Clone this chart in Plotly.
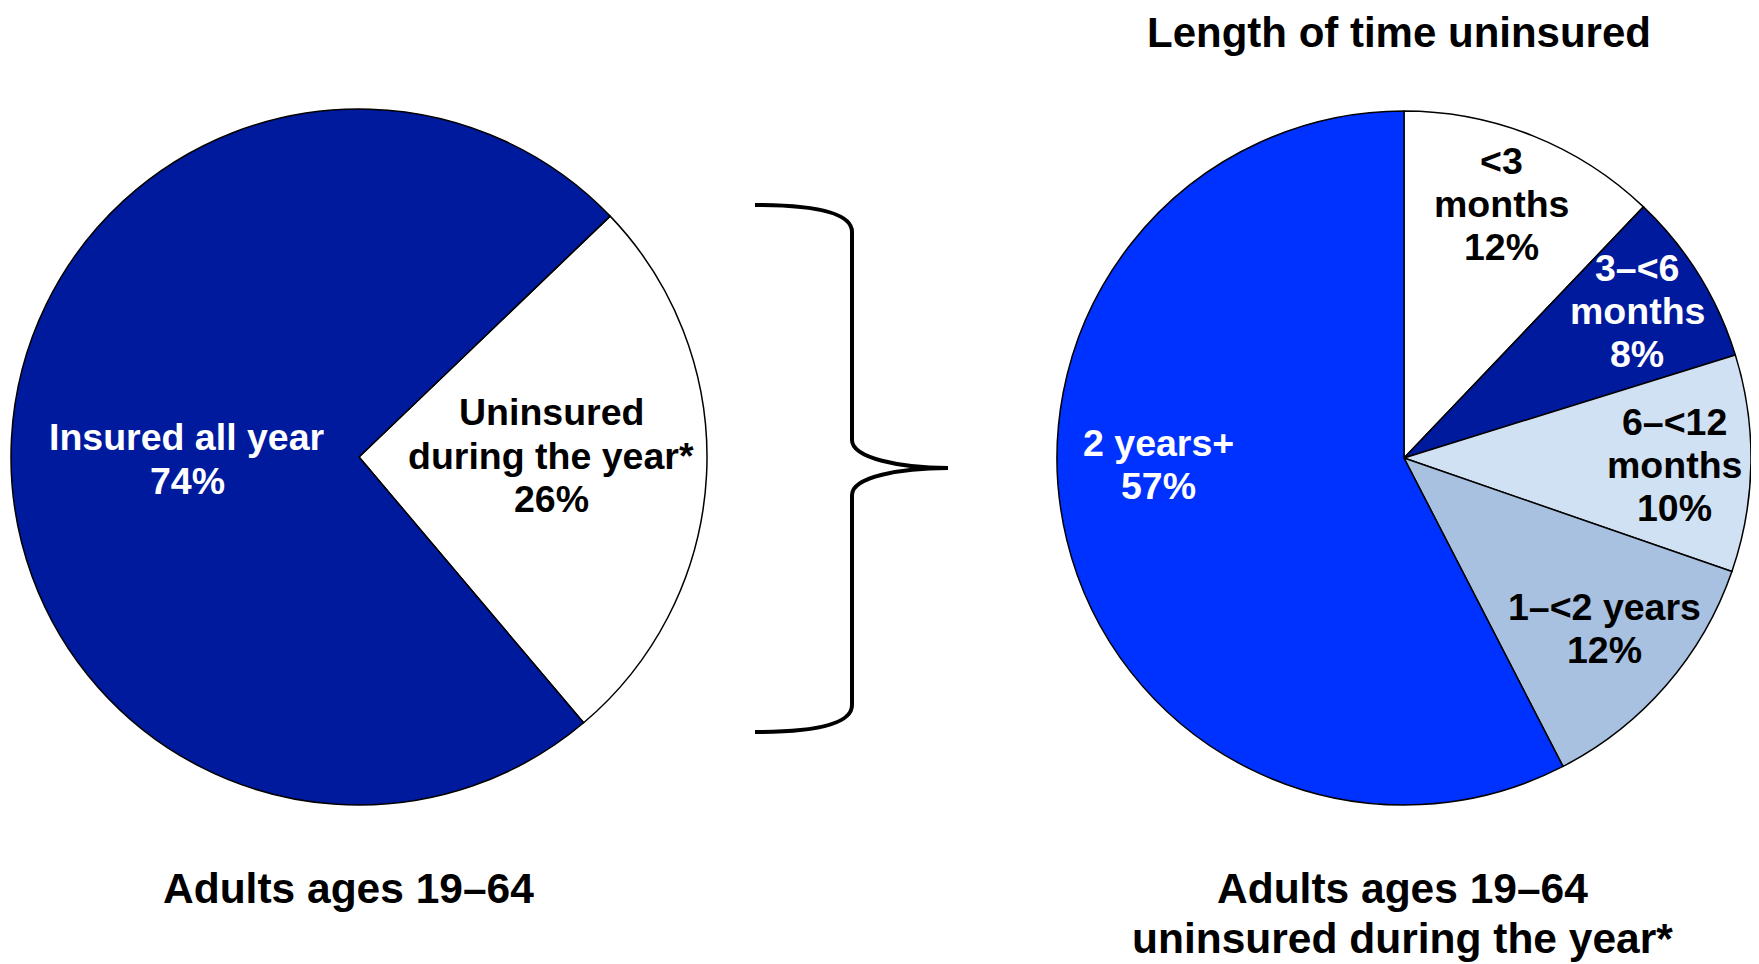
import plotly.graph_objects as go

W, H = 1759, 964
OFF = 8  # the page body has an 8px margin
FW, FH = W - OFF, H - OFF

# left pie: all adults
left_labels = ["Uninsured during the year*", "Insured all year"]
left_values = [26, 74]
left_colors = ["#FFFFFF", "#001A9E"]
left_lines = [["Uninsured", "during the year*"], ["Insured all year"]]
left_text_colors = ["black", "white"]

# right pie: length of time uninsured
right_labels = ["<3 months", "3–<6 months", "6–<12 months", "1–<2 years", "2 years+"]
right_values = [12, 8, 10, 12, 57]
right_colors = ["#FFFFFF", "#001A9E", "#D0E1F3", "#A8C1E0", "#0032FF"]
right_lines = [["<3", "months"], ["3–<6", "months"], ["6–<12", "months"], ["1–<2 years"], ["2 years+"]]
right_text_colors = ["black", "white", "black", "black", "white"]

FONT = "Liberation Sans, Arial, sans-serif"


def px(x):
    return (x - OFF) / FW


def py(y):
    return 1 - (y - OFF) / FH


def add_lines(fig, lines, cx, top, step, size, color):
    # plotly's <br> spacing is too loose, so one annotation per line
    for i, line in enumerate(lines):
        fig.add_annotation(
            x=px(cx), y=py(top + i * step), xref="paper", yref="paper",
            text=line, showarrow=False, xanchor="center", yanchor="middle",
            font=dict(family=FONT, size=size, color=color, weight="bold"),
        )


fig = go.Figure()

fig.add_trace(go.Pie(
    labels=left_labels, values=left_values, sort=False, direction="clockwise",
    rotation=46.2, textinfo="none", hoverinfo="label+percent",
    marker=dict(colors=left_colors, line=dict(color="black", width=1.5)),
    domain=dict(x=[px(11), px(707)], y=[py(805), py(109)]),
    showlegend=False,
))

fig.add_trace(go.Pie(
    labels=right_labels, values=right_values, sort=False, direction="clockwise",
    rotation=0, textinfo="none", hoverinfo="label+percent",
    marker=dict(colors=right_colors, line=dict(color="black", width=1.5)),
    domain=dict(x=[px(1057), px(1751)], y=[py(805), py(111)]),
    showlegend=False,
))

# slice labels: (centre x, first line y) in pixels
left_pos = [(551, 412), (187, 437)]
right_pos = [(1501, 161), (1637, 268), (1674, 422), (1604, 607), (1158, 443)]

for lines, v, c, (x, y) in zip(left_lines, left_values, left_text_colors, left_pos):
    add_lines(fig, lines + [f"{v}%"], x, y, 43.5, 37.5, c)

for lines, v, c, (x, y) in zip(right_lines, right_values, right_text_colors, right_pos):
    add_lines(fig, lines + [f"{v}%"], x, y, 43, 37.5, c)

# titles; the top one is pinned to the top edge so its box is not clipped
fig.add_annotation(
    x=px(1399), y=1, xref="paper", yref="paper", text="Length of time uninsured",
    showarrow=False, xanchor="center", yanchor="top", borderpad=0,
    font=dict(family=FONT, size=42, color="black", weight="bold"),
)
add_lines(fig, ["Adults ages 19–64"], 348, 888, 50, 42.5, "black")
add_lines(fig, ["Adults ages 19–64", "uninsured during the year*"], 1402, 888, 50.5, 42.5, "black")

# curly brace linking the two pies
pts = [
    (755, 205), (820, 205), (852, 214), (852, 232),
    (852, 440), (852, 458), (900, 468), (948, 468),
    (900, 468), (852, 477), (852, 495),
    (852, 705), (852, 723), (820, 732), (755, 732),
]
p = [f"{px(x):.5f},{py(y):.5f}" for x, y in pts]
path = (f"M {p[0]} C {p[1]} {p[2]} {p[3]} L {p[4]} C {p[5]} {p[6]} {p[7]} "
        f"C {p[8]} {p[9]} {p[10]} L {p[11]} C {p[12]} {p[13]} {p[14]}")
fig.add_shape(type="path", path=path, xref="paper", yref="paper",
              line=dict(color="black", width=4))

fig.update_layout(
    width=FW, height=FH,
    margin=dict(l=0, r=0, t=0, b=0),
    paper_bgcolor="white", plot_bgcolor="white",
)

fig.write_html("out.html")
